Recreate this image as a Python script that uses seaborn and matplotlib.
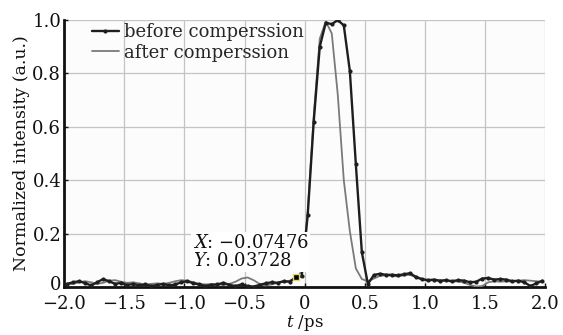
import numpy as np
import pandas as pd
import matplotlib
matplotlib.use('Agg')
import matplotlib.pyplot as plt
import matplotlib.transforms as mtransforms
import seaborn as sns

# sample times (ps)
t_ps = [-1.975, -1.925, -1.875, -1.825, -1.775, -1.725, -1.675, -1.625, -1.575, -1.525,
        -1.475, -1.425, -1.375, -1.325, -1.275, -1.225, -1.175, -1.125, -1.075, -1.025,
        -0.975, -0.925, -0.875, -0.825, -0.775, -0.725, -0.675, -0.625, -0.575, -0.525,
        -0.475, -0.425, -0.375, -0.325, -0.275, -0.225, -0.175, -0.125, -0.07476, -0.025,
        0.025, 0.075, 0.125, 0.175, 0.225, 0.275, 0.325, 0.375, 0.425, 0.475,
        0.525, 0.575, 0.625, 0.675, 0.725, 0.775, 0.825, 0.875, 0.925, 0.975,
        1.025, 1.075, 1.125, 1.175, 1.225, 1.275, 1.325, 1.375, 1.425, 1.475,
        1.525, 1.575, 1.625, 1.675, 1.725, 1.775, 1.825, 1.875, 1.925, 1.975]

before = [0.012, 0.018, 0.022, 0.015, 0.006, 0.018, 0.030, 0.022, 0.012, 0.016,
          0.008, 0.012, 0.006, 0.010, 0.004, 0.008, 0.012, 0.006, 0.010, 0.018,
          0.022, 0.014, 0.010, 0.004, 0.008, 0.010, 0.016, 0.008, 0.004, 0.010,
          0.004, 0.002, 0.008, 0.014, 0.018, 0.016, 0.022, 0.020, 0.03728, 0.040,
          0.27, 0.62, 0.90, 0.99, 0.985, 1.0, 0.98, 0.81, 0.46, 0.13,
          0.012, 0.045, 0.050, 0.046, 0.046, 0.044, 0.048, 0.052, 0.038, 0.030,
          0.026, 0.028, 0.024, 0.026, 0.022, 0.026, 0.024, 0.018, 0.020, 0.032,
          0.034, 0.028, 0.030, 0.028, 0.022, 0.024, 0.018, 0.004, 0.014, 0.024]

after = [0.010, 0.012, 0.018, 0.022, 0.018, 0.012, 0.016, 0.024, 0.026, 0.020,
         0.016, 0.018, 0.014, 0.010, 0.012, 0.014, 0.012, 0.016, 0.022, 0.026,
         0.024, 0.018, 0.012, 0.010, 0.012, 0.010, 0.008, 0.012, 0.020, 0.032,
         0.036, 0.026, 0.012, 0.006, 0.010, 0.016, 0.020, 0.024, 0.028, 0.060,
         0.28, 0.64, 0.93, 0.995, 0.95, 0.72, 0.40, 0.21, 0.07, 0.030,
         0.022, 0.032, 0.042, 0.044, 0.042, 0.040, 0.044, 0.046, 0.036, 0.028,
         0.024, 0.026, 0.022, 0.024, 0.020, 0.022, 0.016, 0.008, 0.002, 0.004,
         0.018, 0.022, 0.020, 0.022, 0.020, 0.024, 0.026, 0.024, 0.022, 0.020]

x_ticks = [-2.0, -1.5, -1.0, -0.5, 0.0, 0.5, 1.0, 1.5, 2.0]
x_tick_labels = ['\u22122.0', '\u22121.5', '\u22121.0', '\u22120.5', '0', '0.5', '1.0', '1.5', '2.0']
y_ticks = [0.0, 0.2, 0.4, 0.6, 0.8, 1.0]
y_tick_labels = ['0', '0.2', '0.4', '0.6', '0.8', '1.0']

tip_x = -0.07476
tip_y = 0.03728

df = pd.DataFrame({'t': t_ps, 'before': before, 'after': after})

sns.set_theme(style='whitegrid')
plt.rcParams['font.family'] = ['DejaVu Serif']
plt.rcParams['mathtext.fontset'] = 'dejavuserif'

fig = plt.figure(figsize=(5.63, 3.35), dpi=100)
ax = fig.add_axes([0.1137, 0.143, 0.855, 0.797])
ax.set_facecolor('#fcfcfc')

sns.lineplot(data=df, x='t', y='after', ax=ax, color='#7a7a7a', linewidth=1.3,
             label='after comperssion', zorder=3)
sns.lineplot(data=df, x='t', y='before', ax=ax, color='#1e1e1e', linewidth=1.7,
             marker='o', markersize=3, markeredgewidth=0,
             label='before comperssion', zorder=4)

ax.set_xlim(-2.0, 2.0)
ax.set_ylim(0, 1.0)
ax.set_xticks(x_ticks)
ax.set_xticklabels(x_tick_labels)
ax.set_yticks(y_ticks)
ax.set_yticklabels(y_tick_labels)
ax.tick_params(axis='both', labelsize=13, direction='in', length=3, width=1,
               colors='#111111', left=True, bottom=True)
ax.tick_params(axis='x', pad=6)
ax.tick_params(axis='y', pad=2)
ax.grid(True, color='#c4c4c4', linewidth=0.9)
for side in ['top', 'right']:
    ax.spines[side].set_visible(False)
for side in ['left', 'bottom']:
    ax.spines[side].set_color('#111111')
    ax.spines[side].set_linewidth(2)

# lift the "0" on the y axis a little so it clears the x labels
zero_lbl = ax.get_yticklabels()[0]
zero_lbl.set_transform(zero_lbl.get_transform() +
                       mtransforms.ScaledTranslation(0, 4 / 100, fig.dpi_scale_trans))

ax.set_xlabel('$t$ /ps', fontsize=12, labelpad=0, color='#111111')
ax.set_ylabel('Normalized intensity (a.u.)', fontsize=12.5, labelpad=2, color='#111111')

# legend: before first
handles, labels = ax.get_legend_handles_labels()
leg = ax.legend(handles[::-1], labels[::-1], loc='upper left',
                bbox_to_anchor=(0.035, 1.03), frameon=False, fontsize=13,
                handlelength=1.5, handletextpad=0.3, labelspacing=0.15,
                borderpad=0.1)

# data tip
ax.plot([tip_x], [tip_y], marker='s', markersize=5, color='black',
        markeredgecolor='#e8d870', markeredgewidth=1, zorder=6)
ax.text(-0.93, 0.2, '$X$: \u22120.07476\n$Y$: 0.03728', fontsize=13,
        ha='left', va='top', linespacing=1.05, color='#111111', zorder=5,
        bbox=dict(facecolor='white', edgecolor='none', pad=1))

fig.savefig('out.png', dpi=100)
